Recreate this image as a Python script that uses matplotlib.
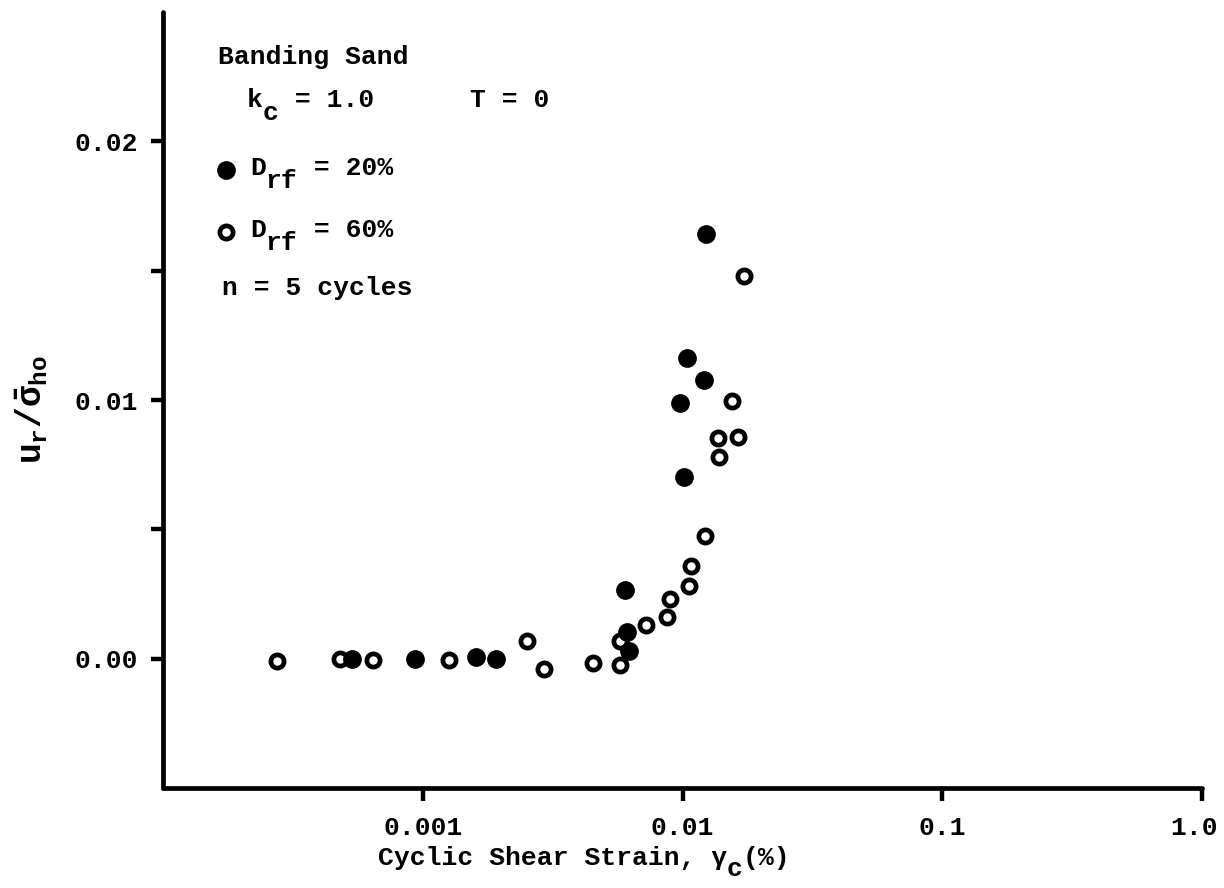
import matplotlib
matplotlib.use("Agg")
import matplotlib.pyplot as plt
import matplotlib.transforms as mtransforms
import numpy as np

# Data: D_rf = 20% (filled)
strain_20 = [5.33e-4, 9.31e-4, 1.61e-3, 1.91e-3, 6.25e-3, 6.14e-3, 6.03e-3,
             1.01e-2, 9.82e-3, 1.205e-2, 1.045e-2, 1.236e-2]
ur_20 = [0.0, 0.0, 0.00005, 0.0, 0.0003, 0.00104, 0.00266,
         0.00703, 0.00988, 0.01077, 0.01162, 0.01641]

# Data: D_rf = 60% (open)
strain_60 = [2.74e-4, 4.80e-4, 6.43e-4, 1.26e-3, 2.51e-3, 2.92e-3, 4.51e-3,
             5.73e-3, 5.73e-3, 7.21e-3, 8.75e-3, 8.99e-3, 1.064e-2, 1.083e-2,
             1.216e-2, 1.387e-2, 1.364e-2, 1.64e-2, 1.556e-2, 1.72e-2]
ur_60 = [-0.00008, 0.0, -0.00004, -0.00004, 0.0007, -0.00039, -0.00015,
         0.0007, -0.00023, 0.00131, 0.00162, 0.00232, 0.00282, 0.00359,
         0.00475, 0.0078, 0.00853, 0.00857, 0.00996, 0.01479]

xticks = [0.001, 0.01, 0.1, 1.0]
xticklabels = ["0.001", "0.01", "0.1", "1.0"]
yticks = [0.0, 0.005, 0.01, 0.015, 0.02]
yticklabels = ["0.00", "", "0.01", "", "0.02"]

FONT = "Liberation Mono"
plt.rcParams['font.family'] = [FONT, 'DejaVu Sans']
plt.rcParams['font.weight'] = 'bold'
plt.rcParams['mathtext.fontset'] = 'custom'
plt.rcParams['mathtext.rm'] = FONT + ':bold'
plt.rcParams['mathtext.it'] = FONT + ':bold'
plt.rcParams['mathtext.bf'] = FONT + ':bold'

W, H = 1224, 888
fig = plt.figure(figsize=(W / 100, H / 100), dpi=100)
ax = fig.add_axes([163 / W, 1 - 788 / H, (1202 - 163) / W, (788 - 12) / H])

ax.set_xscale('log')
ax.set_xlim(1e-4, 1.0)
ax.set_ylim(-0.005, 0.025)

ax.plot(strain_60, ur_60, linestyle='none', marker='o', ms=9.5,
        mfc='white', mec='black', mew=3.4, zorder=3)
ax.plot(strain_20, ur_20, linestyle='none', marker='o', ms=13.5,
        mfc='black', mec='black', mew=0, zorder=4)

for s in ['top', 'right']:
    ax.spines[s].set_visible(False)
for s in ['left', 'bottom']:
    ax.spines[s].set_linewidth(3.4)
    ax.spines[s].set_capstyle('round')

ax.set_xticks(xticks)
ax.set_xticklabels(xticklabels)
ax.xaxis.set_minor_locator(matplotlib.ticker.NullLocator())
ax.set_yticks(yticks)
ax.set_yticklabels(yticklabels)
ax.tick_params(axis='both', which='major', direction='out', length=9,
               width=3.2, labelsize=19)
ax.tick_params(axis='x', pad=11)
ax.tick_params(axis='y', pad=9)
for lab in ax.get_xticklabels() + ax.get_yticklabels():
    lab.set_fontweight('bold')
# nudge the last x tick label left so it stays inside the figure
last = ax.get_xticklabels()[-1]
last.set_transform(last.get_transform() +
                   mtransforms.ScaledTranslation(-8 / 100, 0, fig.dpi_scale_trans))

SIZE = 19
ADV = 0.6 * SIZE * 100 / 72  # monospace advance in px


def seq(x, y, parts, size=SIZE, drop=13):
    """Draw a run of typewriter text; parts = [(text, is_subscript)]."""
    cx = x
    for txt, sub in parts:
        yy = y + (drop if sub else 0)
        fig.text(cx / W, 1 - yy / H, txt, ha='left', va='center',
                 fontsize=size, fontweight='bold')
        cx += len(txt) * ADV


# axis labels
seq(378, 858, [("Cyclic Shear Strain, \u03b3", False), ("c", True), ("(%)", False)],
    drop=11)
fig.text(32 / W, 1 - 410 / H, r"$u_r/\bar{\sigma}_{ho}$", rotation=90,
         ha='center', va='center', fontsize=25)

# annotations
seq(218, 57, [("Banding Sand", False)])
seq(247, 100, [("k", False), ("c", True), (" = 1.0", False)])
seq(470, 100, [("T = 0", False)])
seq(250, 168, [("D", False), ("rf", True), (" = 20%", False)])
seq(250, 230, [("D", False), ("rf", True), (" = 60%", False)])
seq(222, 288, [("n = 5 cycles", False)])

fig.add_artist(plt.Line2D([226 / W], [1 - 170 / H], marker='o', ms=13.5,
                          mfc='black', mec='black', mew=0,
                          transform=fig.transFigure))
fig.add_artist(plt.Line2D([226 / W], [1 - 232 / H], marker='o', ms=9.5,
                          mfc='white', mec='black', mew=3.4,
                          transform=fig.transFigure))

fig.savefig("out.png", dpi=100)
